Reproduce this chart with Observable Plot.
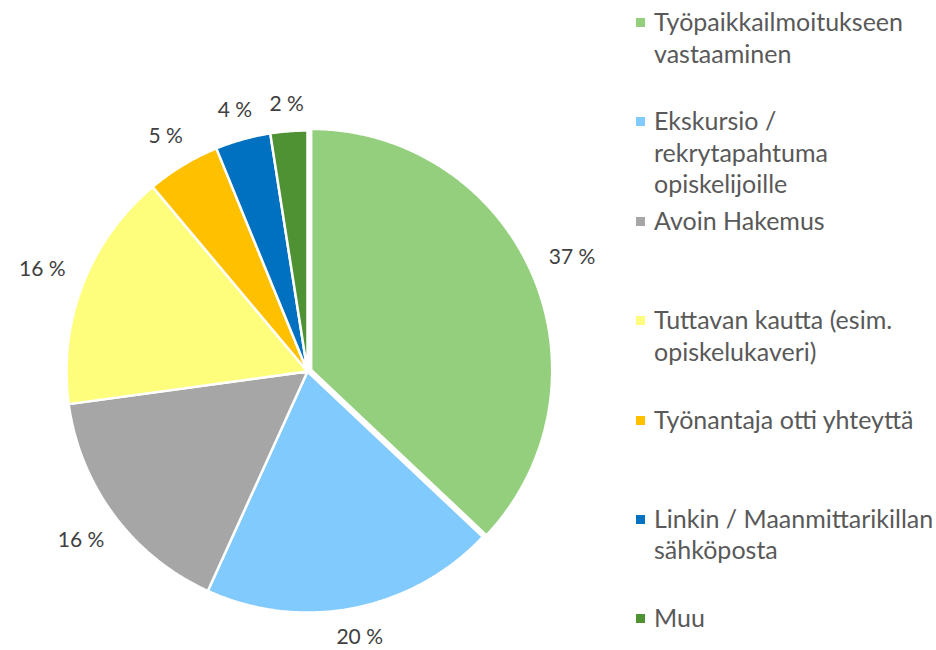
<!DOCTYPE html>
<html>
<head>
<meta charset="utf-8">
<script src="https://cdn.jsdelivr.net/npm/d3@7"></script>
<script src="https://cdn.jsdelivr.net/npm/@observablehq/plot@0.6"></script>
<style>
  html, body { margin: 0; padding: 0; background: #fff; }
  #wrap { position: relative; width: 936px; height: 650px; overflow: hidden; font-family: Lato, "Open Sans", sans-serif; }
  #chart { position: absolute; left: 0; top: 0; }
  #legend { position: absolute; left: 636px; top: 6px; width: 300px; }
  .item { height: 99.4px; display: flex; align-items: flex-start; }
  .sw { width: 9px; height: 9px; flex: none; margin-top: 12px; margin-right: 9px; }
  .txt { font-size: 25px; line-height: 31.5px; color: #595959; white-space: nowrap; }
</style>
</head>
<body>
<div id="wrap"><div id="chart"></div><div id="legend"></div></div>
<script>
// ---- data ----
const categories = [
  "Työpaikkailmoitukseen vastaaminen",
  "Ekskursio / rekrytapahtuma opiskelijoille",
  "Avoin Hakemus",
  "Tuttavan kautta (esim. opiskelukaveri)",
  "Työnantaja otti yhteyttä",
  "Linkin / Maanmittarikillan sähköposta",
  "Muu"
];
const counts = [30, 16, 13, 13, 4, 3, 2];
const legendLines = [
  ["Työpaikkailmoitukseen", "vastaaminen"],
  ["Ekskursio /", "rekrytapahtuma", "opiskelijoille"],
  ["Avoin Hakemus"],
  ["Tuttavan kautta (esim.", "opiskelukaveri)"],
  ["Työnantaja otti yhteyttä"],
  ["Linkin / Maanmittarikillan", "sähköposta"],
  ["Muu"]
];
const colors = ["#94CF7E", "#80CAFD", "#A6A6A6", "#FEFE7C", "#FFC000", "#0070C0", "#4E9234"];
const explodedCategory = "Työpaikkailmoitukseen vastaaminen";

// ---- layout ----
const W = 936, H = 650, CX = 307, CY = 371, R = 241;
const EXPLODE = 4 / R;
const labelFont = 21;

const rows = categories.map((c, i) => ({category: c, count: counts[i]}));
const total = d3.sum(counts);
const arcs = d3.pie().sort(null).value(d => d.count)(rows);

// slice polygons in data units (radius = 1, y up)
const poly = [];
const labels = [];
arcs.forEach(a => {
  const mid = (a.startAngle + a.endAngle) / 2;
  const off = a.data.category === explodedCategory ? EXPLODE : 0;
  const ox = off * Math.sin(mid), oy = off * Math.cos(mid);
  const steps = Math.max(2, Math.ceil((a.endAngle - a.startAngle) / (Math.PI / 360)));
  poly.push({category: a.data.category, x: ox, y: oy});
  for (let k = 0; k <= steps; k++) {
    const t = a.startAngle + (a.endAngle - a.startAngle) * k / steps;
    poly.push({category: a.data.category, x: ox + Math.sin(t), y: oy + Math.cos(t)});
  }
  poly.push({category: a.data.category, x: ox, y: oy});
  const text = Math.round(a.data.count / total * 100) + " %";
  const hw = text.length * 0.25 * labelFont;
  const dist = (R + 24 + Math.abs(Math.sin(mid)) * 0.95 * hw + Math.abs(Math.cos(mid)) * 2) / R;
  labels.push({text, x: ox + dist * Math.sin(mid), y: oy + dist * Math.cos(mid)});
});

const chart = Plot.plot({
  width: W,
  height: H,
  margin: 0,
  x: {domain: [-CX / R, (W - CX) / R], axis: null},
  y: {domain: [-(H - CY) / R, CY / R], axis: null},
  color: {domain: categories, range: colors},
  style: {background: "transparent"},
  marks: [
    Plot.line(poly, {x: "x", y: "y", z: "category", fill: "category", stroke: "white", strokeWidth: 2.5, strokeLinejoin: "miter", curve: "linear"}),
    Plot.text(labels, {x: "x", y: "y", text: "text", fontSize: labelFont, fill: "#404040", fontFamily: "Lato, 'Open Sans', sans-serif", textAnchor: "middle"})
  ]
});
document.getElementById("chart").appendChild(chart);

// legend
const legend = d3.select("#legend");
categories.forEach((c, i) => {
  const item = legend.append("div").attr("class", "item");
  item.append("div").attr("class", "sw").style("background", colors[i]);
  item.append("div").attr("class", "txt").html(legendLines[i].join("<br>"));
});
</script>
</body>
</html>
